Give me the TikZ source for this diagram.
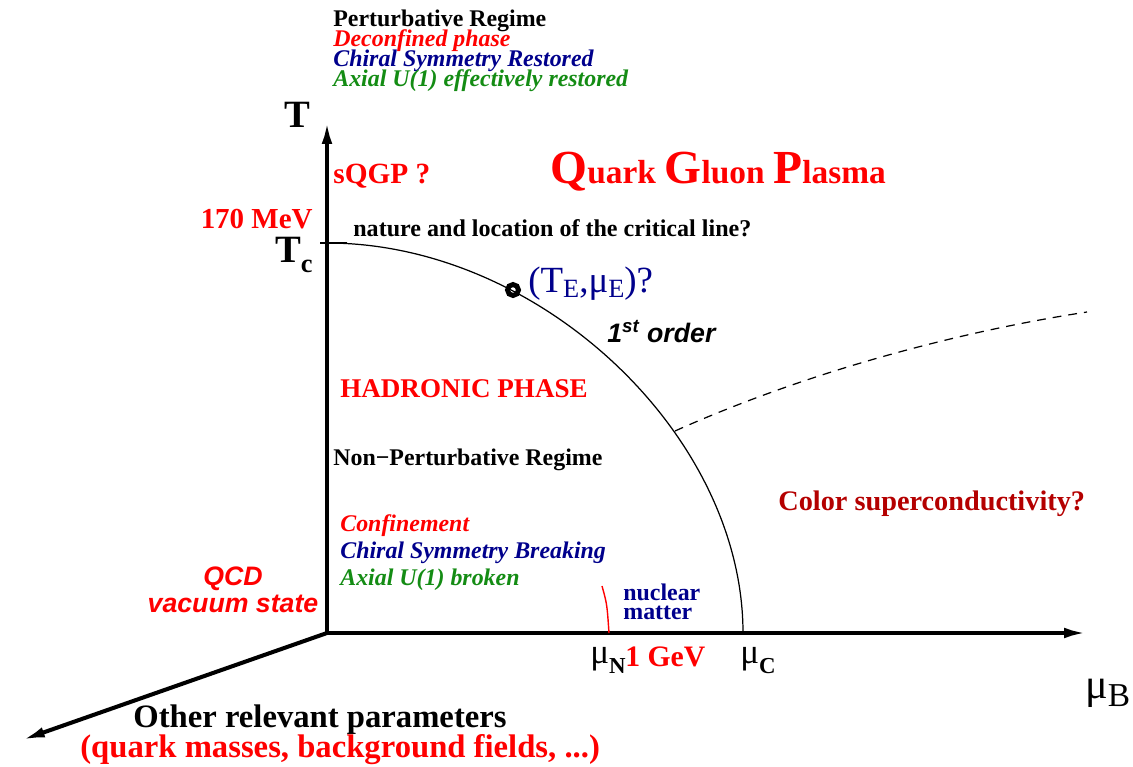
\documentclass[tikz,border=0pt]{standalone}
\usepackage{fontspec}
\setmainfont{Liberation Serif}
\setsansfont{Liberation Sans}
\usetikzlibrary{arrows.meta}
\definecolor{qred}{RGB}{255,0,0}
\definecolor{qblue}{RGB}{0,0,140}
\definecolor{qgreen}{RGB}{20,140,20}
\definecolor{qdred}{RGB}{180,0,0}
\newcommand{\fsz}[1]{\fontsize{#1}{#1}\selectfont}
\newcommand{\sub}[2]{\raisebox{-#1}{#2}}

\begin{document}
\begin{tikzpicture}[x=0.02cm,y=-0.02cm,
  txt/.style={inner sep=0pt,anchor=base west},
  axis/.style={line width=2.3pt,-{Latex[length=13pt,width=6pt]}}]
\useasboundingbox (0,0) rectangle (1133,767);
% axes
\coordinate (O) at (327,633);
\coordinate (Ttip) at (327,121);
\coordinate (Mtip) at (1087,633);
\coordinate (Ptip) at (22,740);
\draw[axis] (O) -- (Ttip);
\draw[axis] (O) -- (Mtip);
\draw[axis] (O) -- (Ptip);
\node[txt,anchor=base] (Tlab) at (297,128) {\fsz{22}\bfseries T};
\node[txt] (mubLab) at (1085,698) {\fsz{24}μ\sub{5pt}{\fsz{19}B}};
% critical line
\coordinate (tcL) at (320,243); \coordinate (tcR) at (347,243);
\draw[line width=1.3pt] (tcL) -- (tcR);
\coordinate (Tc) at (327,243);
\coordinate (muc) at (743,633);
\draw[line width=0.7pt] (Tc) .. controls (540,243) and (743,435) .. (muc);
\coordinate (E) at (513,290);
\draw[line width=2.8pt] (E) circle (5.5);
\coordinate (dA) at (675,431);
\coordinate (dB) at (1087,312);
\draw[line width=0.7pt,dash pattern=on 5pt off 4pt] (dA) .. controls (800,375) and (950,333) .. (dB);
\coordinate (nmA) at (602,586); \coordinate (nmB) at (609,633);
\draw[qred,line width=0.8pt] (nmA) .. controls (607,604) .. (nmB);
% top labels
\node[txt] (pert) at (333,27) {\fsz{13.6}\bfseries Perturbative Regime};
\node[txt,qred] (deconf) at (333,47) {\fsz{13.6}\bfseries\itshape Deconfined phase};
\node[txt,qblue] (chirR) at (333,67) {\fsz{13.6}\bfseries\itshape Chiral Symmetry Restored};
\node[txt,qgreen] (axR) at (333,87) {\fsz{13.6}\bfseries\itshape Axial U(1) effectively restored};
\node[txt,qred] (sqgp) at (333,183) {\fsz{16.7}\bfseries sQGP ?};
\node[txt,qred] (qgp) at (550,183) {\bfseries{\fsz{27}Q}{\fsz{19}uark}\hspace{5pt}{\fsz{27}G}{\fsz{19}luon}\hspace{5pt}{\fsz{27}P}{\fsz{19}lasma}};
\node[txt,qred,anchor=base east] (mev) at (313,228) {\fsz{16.5}\bfseries 170 MeV};
\node[txt,anchor=base east] (tcLab) at (313,262) {\bfseries\fsz{22}T\sub{6pt}{\fsz{15}c}};
\node[txt] (nature) at (353,236) {\fsz{13.7}\bfseries nature and location of the critical line?};
\node[txt,qblue] (TE) at (528,292) {\fsz{21}(T\sub{3pt}{\fsz{15}E},μ\sub{3pt}{\fsz{15}E})?};
\node[txt] (first) at (607,342) {\sffamily\bfseries\itshape\fsz{15.2}1\textsuperscript{st} order};
% hadronic side
\node[txt,qred] (had) at (340,397) {\fsz{15.4}\bfseries HADRONIC PHASE};
\node[txt] (npert) at (333,465) {\fsz{13.6}\bfseries Non−Perturbative Regime};
\node[txt,qred] (conf) at (340,531) {\fsz{13.6}\bfseries\itshape Confinement};
\node[txt,qblue] (chirB) at (340,558) {\fsz{13.6}\bfseries\itshape Chiral Symmetry Breaking};
\node[txt,qgreen] (axB) at (340,585) {\fsz{13.6}\bfseries\itshape Axial U(1) broken};
\node[txt,qred,anchor=base] (qcd) at (233,585) {\sffamily\bfseries\itshape\fsz{15.2}QCD};
\node[txt,qred,anchor=base] (vac) at (233,612) {\sffamily\bfseries\itshape\fsz{15.2}vacuum state};
\node[txt,qblue] (nuc) at (623,600) {\fsz{13.6}\bfseries nuclear};
\node[txt,qblue] (mat) at (623,619) {\fsz{13.6}\bfseries matter};
% mu axis labels
\node[txt] (muN) at (590,663) {\fsz{20}μ\sub{6pt}{\fsz{13}\bfseries N}};
\node[txt,qred] (gev) at (625,666) {\fsz{16.9}\bfseries 1 GeV};
\node[txt] (muC) at (740,663) {\fsz{20}μ\sub{6pt}{\fsz{13}\bfseries C}};
\node[txt,qdred] (csc) at (778,510) {\fsz{16.1}\bfseries Color superconductivity?};
% other parameters
\node[txt] (other) at (133,727) {\fsz{18.6}\bfseries Other relevant parameters};
\node[txt,qred] (qm) at (80,757) {\fsz{18.6}\bfseries (quark masses, background fields, ...)};
\end{tikzpicture}
\end{document}
